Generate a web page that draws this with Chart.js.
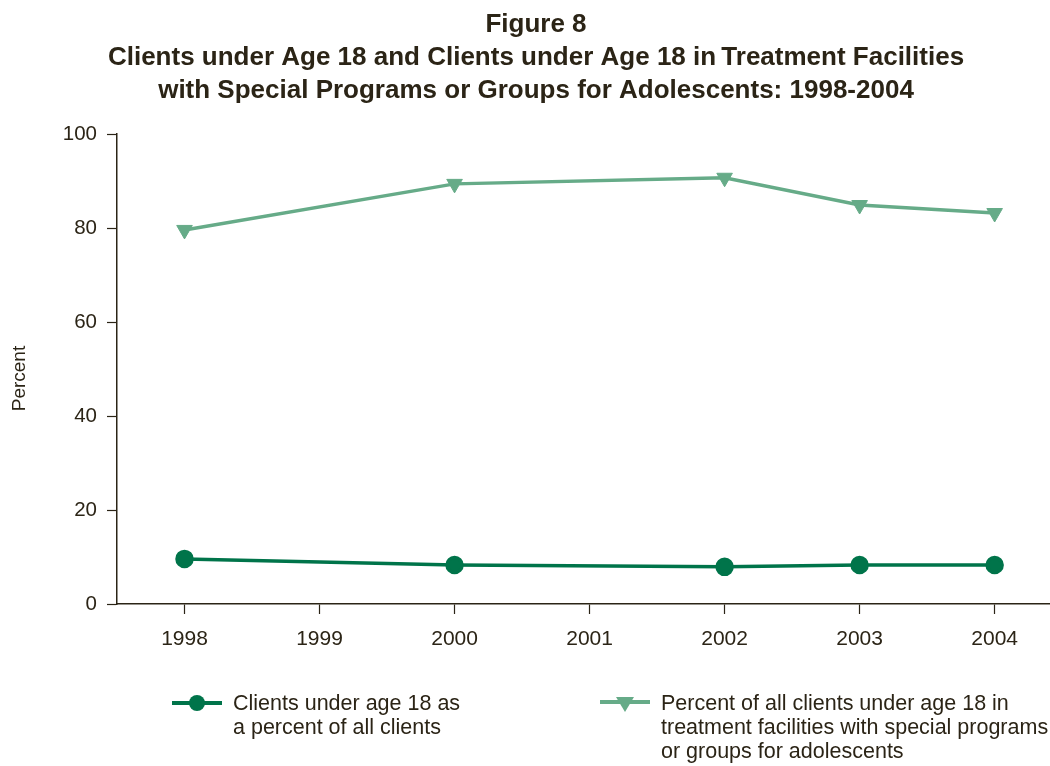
<!DOCTYPE html>
<html>
<head>
<meta charset="utf-8">
<script src="https://cdn.jsdelivr.net/npm/chart.js@4/dist/chart.umd.min.js"></script>
<style>
  html, body { margin: 0; padding: 0; background: #fff; overflow: hidden; }
  canvas { display: block; }
</style>
</head>
<body>
<canvas id="fig8" width="1050" height="766"></canvas>
<script>
// ===== Figure 8: clients under 18, 1998-2004 =====

const YEARS = [1998, 2000, 2002, 2003, 2004];
const YEAR_TICKS = [1998, 1999, 2000, 2001, 2002, 2003, 2004];
const UNDER18 = [9.6, 8.3, 7.9, 8.3, 8.3];
const SPECIAL_PROG = [79.6, 89.4, 90.7, 84.9, 83.2];

const TITLE = [
  'Figure 8',
  'Clients under Age 18 and Clients under Age 18 in\u2009Treatment Facilities',
  'with Special Programs or Groups for Adolescents: 1998-2004'
];
const LEGEND_1 = ['Clients under age 18 as', 'a percent of all clients'];
const LEGEND_2 = ['Percent of all clients under age 18 in', 'treatment facilities with special programs', 'or groups for adolescents'];

const INK = '#2b2416';
const DARK = '#00744a';
const LIGHT = '#66ab88';
const FONT = "'Liberation Sans', Arial, Helvetica, sans-serif";

function pts(vals) {
  return YEARS.map((y, i) => ({ x: y, y: vals[i] }));
}

// legend drawn under the axis, with wrapped labels
const legendBelow = {
  id: 'legendBelow',
  afterDraw(chart) {
    const ctx = chart.ctx;
    const items = [
      { x: 172, lines: LEGEND_1, ds: chart.data.datasets[0] },
      { x: 600, lines: LEGEND_2, ds: chart.data.datasets[1] }
    ];
    const y0 = 703;
    ctx.save();
    items.forEach(it => {
      const c = it.ds.borderColor;
      ctx.strokeStyle = c;
      ctx.fillStyle = c;
      ctx.lineWidth = 4;
      ctx.beginPath();
      ctx.moveTo(it.x, it.lines.length > 2 ? y0 - 1 : y0);
      ctx.lineTo(it.x + 50, it.lines.length > 2 ? y0 - 1 : y0);
      ctx.stroke();
      const mx = it.x + 25;
      ctx.beginPath();
      if (it.ds.pointStyle === 'circle') {
        ctx.arc(mx, y0, 8, 0, Math.PI * 2);
      } else {
        ctx.moveTo(mx - 9, y0 - 6);
        ctx.lineTo(mx + 9, y0 - 6);
        ctx.lineTo(mx, y0 + 9);
        ctx.closePath();
      }
      ctx.fill();
      ctx.fillStyle = INK;
      ctx.font = '21.5px ' + FONT;
      ctx.textBaseline = 'middle';
      it.lines.forEach((t, k) => ctx.fillText(t, it.x + 61, y0 + 1 + k * 24));
    });
    ctx.restore();
  }
};

new Chart(document.getElementById('fig8'), {
  type: 'line',
  data: {
    datasets: [
      {
        label: LEGEND_1.join(' '), data: pts(UNDER18),
        borderColor: DARK, backgroundColor: DARK, borderWidth: 3.5,
        pointStyle: 'circle', pointRadius: 7.5, pointHoverRadius: 7.5,
        pointBackgroundColor: DARK, pointBorderColor: DARK, tension: 0
      },
      {
        label: LEGEND_2.join(' '), data: pts(SPECIAL_PROG),
        borderColor: LIGHT, backgroundColor: LIGHT, borderWidth: 3.5,
        pointStyle: 'triangle', rotation: 180, pointRadius: 9, pointHoverRadius: 9,
        pointBackgroundColor: LIGHT, pointBorderColor: LIGHT, pointBorderWidth: 1, tension: 0
      }
    ]
  },
  options: {
    responsive: false,
    animation: false,
    layout: { autoPadding: false, padding: { left: 22, right: 0, top: 2, bottom: 112 } },
    plugins: {
      legend: { display: false },
      tooltip: { enabled: false },
      title: {
        display: true, text: TITLE, color: INK,
        font: { family: FONT, size: 26, weight: 'bold', lineHeight: 1.27 },
        padding: { top: 6, bottom: 27 }
      }
    },
    scales: {
      x: {
        type: 'linear', min: 1997.5, max: 2004.41,
        afterBuildTicks: s => { s.ticks = YEAR_TICKS.map(v => ({ value: v })); },
        afterFit: s => { s.height = 50; s.paddingLeft = 0; s.paddingRight = 0; },
        grid: { drawOnChartArea: false, tickLength: 10, color: INK, tickWidth: 1.2 },
        border: { color: INK, width: 1.5 },
        ticks: {
          color: INK, padding: 13, maxRotation: 0,
          font: { family: FONT, size: 21 },
          callback: v => String(v)
        }
      },
      y: {
        min: 0, max: 100,
        afterFit: s => { s.width = 95; },
        grid: { drawOnChartArea: false, tickLength: 10, color: INK, tickWidth: 1.2 },
        border: { color: INK, width: 1.5 },
        ticks: { stepSize: 20, color: INK, padding: 10, font: { family: FONT, size: 20.5 } },
        title: {
          display: true, text: 'Percent\u2003', color: INK,
          font: { family: FONT, size: 19 }, padding: { top: -14, bottom: 0 }
        }
      }
    }
  },
  plugins: [legendBelow]
});
</script>
</body>
</html>
